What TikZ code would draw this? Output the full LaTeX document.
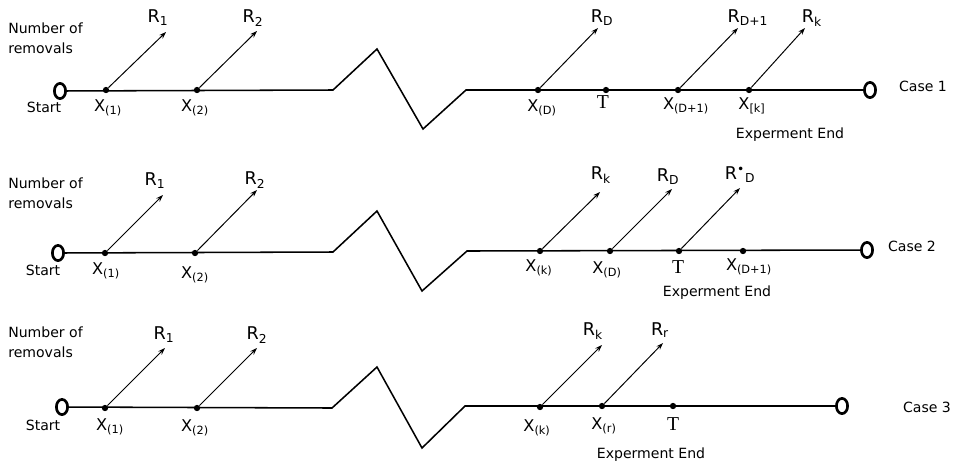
\documentclass[tikz,border=0pt]{standalone}
\usepackage{fontspec}
\setmainfont{DejaVu Sans}
\newfontfamily\tfont{Liberation Serif}
\usetikzlibrary{arrows.meta,shapes.geometric}
\tikzset{
  axis/.style={line width=1.1pt},
  ray/.style={line width=0.7pt,-{Stealth[length=5pt,width=3.5pt]}},
  tick/.style={circle,fill,inner sep=0pt,minimum size=4.5pt},
  endmark/.style={draw,ellipse,line width=1.9pt,inner sep=0pt,minimum width=0.28cm,minimum height=0.38cm},
  note/.style={font=\fontsize{10}{14.2}\selectfont,inner sep=0pt},
  rlab/.style={font=\fontsize{12.5}{13}\selectfont,inner sep=0pt},
  xlab/.style={font=\fontsize{11.5}{13}\selectfont,inner sep=0pt},
  tlab/.style={font=\fontsize{14}{15}\tfont,inner sep=0pt}
}
\newcommand{\xsub}[1]{X\textsubscript{(#1)}}
\begin{document}
\begin{tikzpicture}[x=0.025cm,y=-0.025cm]
\path[use as bounding box] (0,0) rectangle (957,462);
% case 1
\node[note,align=left,anchor=west] (c1num) at (8,38) {Number of\\removals};
\node[endmark] (c1s) at (60,91) {};
\node[note] (c1start) at (44,107) {Start};
\node[endmark] (c1e) at (870,90) {};
\node[note] (c1case) at (923,86) {Case 1};
\draw[axis] (c1s) -- (333,90) -- (377,49) -- (423,129) -- (466,90) -- (c1e);
\node[tick] (c1a) at (106,90) {};
\node[tick] (c1b) at (197,90) {};
\node[tick] (c1c) at (538,90) {};
\node[tick] (c1t) at (606,90) {};
\node[tick] (c1d) at (678,90) {};
\node[tick] (c1k) at (749,90) {};
\coordinate (c1ah) at (166,32);
\coordinate (c1bh) at (257,31);
\coordinate (c1ch) at (598,28);
\coordinate (c1dh) at (738,28);
\coordinate (c1kh) at (805,28);
\draw[ray] (c1a) -- (c1ah);
\draw[ray] (c1b) -- (c1bh);
\draw[ray] (c1c) -- (c1ch);
\draw[ray] (c1d) -- (c1dh);
\draw[ray] (c1k) -- (c1kh);
\node[rlab] at (158,18) {R\textsubscript{1}};
\node[rlab] at (253,18) {R\textsubscript{2}};
\node[rlab] at (602,18) {R\textsubscript{D}};
\node[rlab] at (748,18) {R\textsubscript{D+1}};
\node[rlab] at (812,18) {R\textsubscript{k}};
\node[xlab] at (108,108) {\xsub{1}};
\node[xlab] at (195,108) {\xsub{2}};
\node[xlab] at (542,108) {\xsub{D}};
\node[tlab] at (603,102) {T};
\node[xlab] at (686,106) {\xsub{D+1}};
\node[xlab] at (752,106) {X\textsubscript{[k]}};
\node[note] at (790,135) {Experment End};
% case 2
\node[note,align=left,anchor=west] (c2num) at (8,193) {Number of\\removals};
\node[endmark] (c2s) at (58,253) {};
\node[note] (c2start) at (43,270) {Start};
\node[endmark] (c2e) at (867,250) {};
\node[note] (c2case) at (912,246) {Case 2};
\draw[axis] (c2s) -- (333,252) -- (377,211) -- (422,291) -- (467,251) -- (c2e);
\node[tick] (c2a) at (105,253) {};
\node[tick] (c2b) at (195,253) {};
\node[tick] (c2k) at (540,251) {};
\node[tick] (c2c) at (610,251) {};
\node[tick] (c2t) at (679,251) {};
\node[tick] (c2d) at (743,251) {};
\coordinate (c2ah) at (163,195);
\coordinate (c2bh) at (257,190);
\coordinate (c2kh) at (600,192);
\coordinate (c2ch) at (672,189);
\coordinate (c2th) at (740,188);
\draw[ray] (c2a) -- (c2ah);
\draw[ray] (c2b) -- (c2bh);
\draw[ray] (c2k) -- (c2kh);
\draw[ray] (c2c) -- (c2ch);
\draw[ray] (c2t) -- (c2th);
\node[rlab] at (155,181) {R\textsubscript{1}};
\node[rlab] at (255,180) {R\textsubscript{2}};
\node[rlab] at (601,175) {R\textsubscript{k}};
\node[rlab] at (668,177) {R\textsubscript{D}};
\node[rlab] at (740,175) {R\textsuperscript{\textbullet}\textsubscript{D}};
\node[xlab] at (106,271) {\xsub{1}};
\node[xlab] at (195,275) {\xsub{2}};
\node[xlab] at (539,268) {\xsub{k}};
\node[xlab] at (607,270) {\xsub{D}};
\node[tlab] at (678,267) {T};
\node[xlab] at (749,267) {\xsub{D+1}};
\node[note] at (717,293) {Experment End};
% case 3
\node[note,align=left,anchor=west] (c3num) at (8,342) {Number of\\removals};
\node[endmark] (c3s) at (62,407) {};
\node[note] (c3start) at (43,425) {Start};
\node[endmark] (c3e) at (842,406) {};
\node[note] (c3case) at (927,407) {Case 3};
\draw[axis] (c3s) -- (332,408) -- (377,367) -- (422,448) -- (465,406) -- (c3e);
\node[tick] (c3a) at (105,408) {};
\node[tick] (c3b) at (197,408) {};
\node[tick] (c3k) at (540,407) {};
\node[tick] (c3r) at (602,406) {};
\node[tick] (c3t) at (673,406) {};
\coordinate (c3ah) at (165,348);
\coordinate (c3bh) at (257,348);
\coordinate (c3kh) at (602,345);
\coordinate (c3rh) at (663,343);
\draw[ray] (c3a) -- (c3ah);
\draw[ray] (c3b) -- (c3bh);
\draw[ray] (c3k) -- (c3kh);
\draw[ray] (c3r) -- (c3rh);
\node[rlab] at (164,335) {R\textsubscript{1}};
\node[rlab] at (257,335) {R\textsubscript{2}};
\node[rlab] at (593,331) {R\textsubscript{k}};
\node[rlab] at (660,330) {R\textsubscript{r}};
\node[xlab] at (110,427) {\xsub{1}};
\node[xlab] at (195,428) {\xsub{2}};
\node[xlab] at (537,428) {\xsub{k}};
\node[xlab] at (604,426) {\xsub{r}};
\node[tlab] at (673,424) {T};
\node[note] at (651,455) {Experment End};
\end{tikzpicture}
\end{document}
